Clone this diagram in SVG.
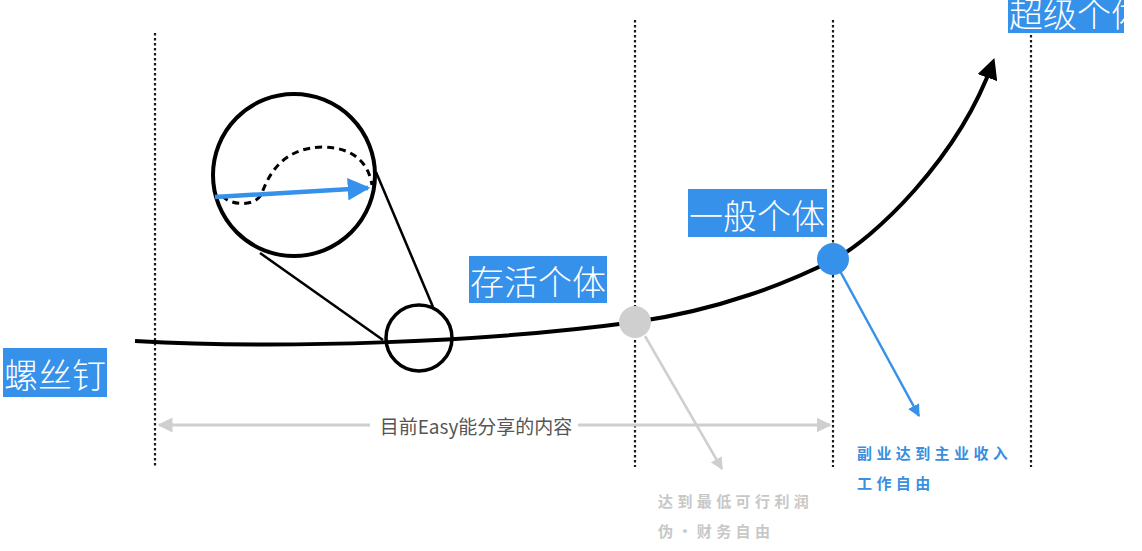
<svg xmlns="http://www.w3.org/2000/svg" width="1142" height="551" viewBox="0 0 1142 551">
<defs>
<style>
.vline{stroke:#1a1a1a;stroke-width:2.2;stroke-dasharray:2.5 2.5;fill:none}
.lbl{fill:#3591ea}
.lbltxt{fill:#fff;font-family:"Noto Sans CJK SC","Noto Sans",sans-serif;font-weight:300;font-size:34px;dominant-baseline:central}
.note{font-family:"Noto Sans CJK SC","Noto Sans",sans-serif;font-weight:700;font-size:15px;letter-spacing:4.4px;dominant-baseline:central}
</style>
<marker id="mk-black" viewBox="0 0 10 10" refX="8" refY="5" markerWidth="5.2" markerHeight="5.2" orient="auto" markerUnits="strokeWidth"><path d="M0,0 L10,5 L0,10 Z" fill="#000"/></marker>
<marker id="mk-blue" viewBox="0 0 10 10" refX="9" refY="5" markerWidth="5" markerHeight="5" orient="auto" markerUnits="strokeWidth"><path d="M0,0 L10,5 L0,10 Z" fill="#3591ea"/></marker>
<marker id="mk-gray" viewBox="0 0 10 10" refX="9" refY="5" markerWidth="5" markerHeight="5" orient="auto-start-reverse" markerUnits="strokeWidth"><path d="M0,0 L10,5 L0,10 Z" fill="#cfcfcf"/></marker>
<clipPath id="clip-super"><rect x="1008" y="-20" width="116" height="53"/></clipPath>
</defs>
<rect width="1142" height="551" fill="#fff"/>

<g id="dividers">
<line class="vline" x1="155" y1="33" x2="155" y2="467"/>
<line class="vline" x1="635" y1="20" x2="635" y2="467"/>
<line class="vline" x1="833" y1="20" x2="833" y2="467"/>
<line class="vline" x1="1031" y1="20" x2="1031" y2="467"/>
</g>

<g id="connectors">
<path id="growth-curve" d="M135,341 C280,349 480,343 635,322 C720,310 790,282 833,260 C872,240 958,160 993,62" fill="none" stroke="#000" stroke-width="4" marker-end="url(#mk-black)"/>
<line id="range-arrow-left" x1="370" y1="425" x2="159" y2="425" stroke="#cfcfcf" stroke-width="3" marker-end="url(#mk-gray)"/>
<line id="range-arrow-right" x1="578" y1="425" x2="830" y2="425" stroke="#cfcfcf" stroke-width="3" marker-end="url(#mk-gray)"/>
<line id="gray-pointer" x1="645" y1="336" x2="722" y2="469" stroke="#cfcfcf" stroke-width="2.5" marker-end="url(#mk-gray)"/>
<line id="blue-pointer" x1="840" y1="271" x2="919" y2="416" stroke="#3591ea" stroke-width="2.5" marker-end="url(#mk-blue)"/>
<line id="lens-line-1" x1="260" y1="253" x2="383" y2="340" stroke="#000" stroke-width="2.5"/>
<line id="lens-line-2" x1="376" y1="172" x2="433" y2="307" stroke="#000" stroke-width="2.5"/>
</g>

<g id="magnifier-small">
<circle cx="419" cy="338" r="33" fill="none" stroke="#000" stroke-width="3.5"/>
</g>

<g id="magnifier-big">
<circle cx="294" cy="175" r="81" fill="#fff" stroke="#000" stroke-width="4"/>
<path d="M222,196 C232,206 256,207 262,193 C272,165 290,148 322,147 C350,147 368,160 372,185" fill="none" stroke="#000" stroke-width="3" stroke-dasharray="7 5"/>
<line x1="215" y1="197" x2="368" y2="188" stroke="#3591ea" stroke-width="4.5" marker-end="url(#mk-blue)"/>
</g>

<g id="dot-survive">
<circle cx="635" cy="322" r="16" fill="#cfcfcf"/>
</g>
<g id="dot-normal">
<circle cx="833" cy="259" r="16" fill="#3591ea"/>
</g>

<g id="label-screw">
<rect class="lbl" x="3" y="348" width="104" height="49"/>
<text class="lbltxt" x="55" y="373" text-anchor="middle" font-size="33">螺丝钉</text>
</g>
<g id="label-survive">
<rect class="lbl" x="469" y="256" width="138" height="47"/>
<text class="lbltxt" x="538" y="280" text-anchor="middle">存活个体</text>
</g>
<g id="label-normal">
<rect class="lbl" x="688" y="189" width="139" height="48"/>
<text class="lbltxt" x="757" y="214" text-anchor="middle">一般个体</text>
</g>
<g id="label-super">
<rect class="lbl" x="1008" y="-20" width="116" height="53"/>
<text class="lbltxt" x="1009" y="12" clip-path="url(#clip-super)">超级个体</text>
</g>

<g id="range-label">
<text x="476" y="425" text-anchor="middle" font-family="'Noto Sans CJK SC','Noto Sans',sans-serif" font-size="19" fill="#555" dominant-baseline="central">目前Easy能分享的内容</text>
</g>

<g id="note-gray">
<text class="note" x="658" y="500" fill="#c8c8c8">达到最低可行利润</text>
<text class="note" x="658" y="530" fill="#c8c8c8">伪·财务自由</text>
</g>
<g id="note-blue">
<text class="note" x="857" y="452" fill="#3a8fe0">副业达到主业收入</text>
<text class="note" x="857" y="482" fill="#3a8fe0">工作自由</text>
</g>
</svg>
